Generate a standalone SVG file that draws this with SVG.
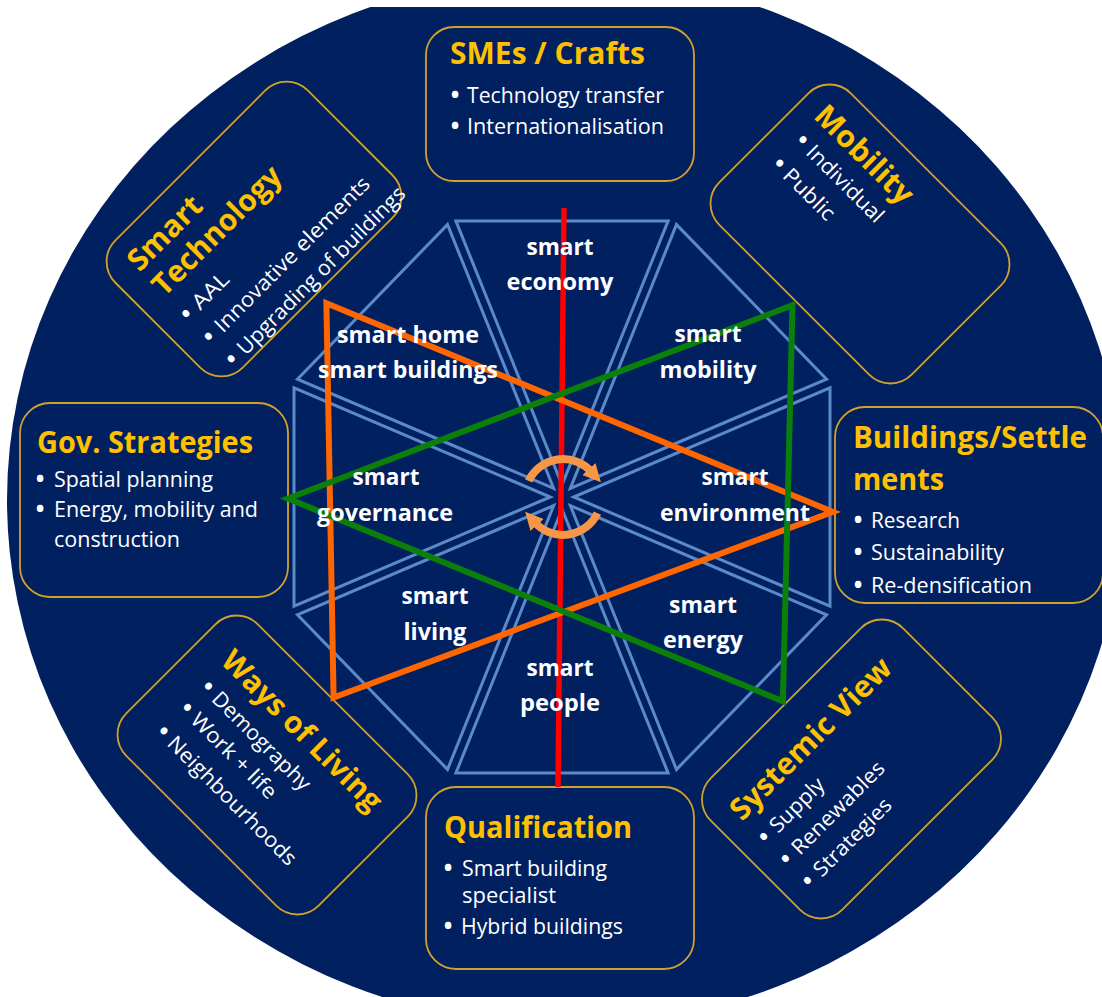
<svg xmlns="http://www.w3.org/2000/svg" width="1102" height="997" viewBox="0 0 1102 997">
<style>
.box{fill:#002060;stroke:#d1a12e;stroke-width:1.8}
.ttl{fill:#ffc000;font-family:"Open Sans","Liberation Sans",sans-serif;font-weight:bold;font-size:30px}
.bt{fill:#ffffff;font-family:"Open Sans","Liberation Sans",sans-serif;font-size:21px}
.bd{fill:#ffffff;font-family:"Open Sans","Liberation Sans",sans-serif;font-size:23px;font-weight:bold;text-anchor:middle}
.lab{fill:#ffffff;font-family:"Open Sans","Liberation Sans",sans-serif;font-weight:bold;font-size:24px;text-anchor:middle}
.wedge{fill:#002060;stroke:#5a8ac8;stroke-width:3;stroke-linejoin:miter}
.arc{fill:none;stroke:#f79646;stroke-width:8}
</style>
<defs>
<clipPath id="clip"><rect x="0" y="7" width="1102" height="990"/></clipPath>
<marker id="ah" viewBox="0 0 10 10" refX="2" refY="5" markerWidth="18" markerHeight="18" markerUnits="userSpaceOnUse" orient="auto"><path d="M0,0 L10,5 L0,10 z" fill="#f79646"/></marker>
<polygon id="wg" points="0,-11.8 -106.1,-268 106.1,-268"/>
</defs>
<rect width="1102" height="997" fill="#ffffff"/>
<ellipse cx="565" cy="500" rx="558" ry="526" fill="#002060" clip-path="url(#clip)"/>

<g id="sme">
<rect class="box" x="426" y="27" width="268" height="154" rx="28"/>
<text class="ttl" x="450" y="64" textLength="195" lengthAdjust="spacingAndGlyphs">SMEs / Crafts</text>
<text class="bd" x="455" y="103">•</text><text class="bt" x="467" y="103" textLength="197" lengthAdjust="spacingAndGlyphs">Technology transfer</text>
<text class="bd" x="455" y="134">•</text><text class="bt" x="467" y="134" textLength="197" lengthAdjust="spacingAndGlyphs">Internationalisation</text>
</g>

<g id="gov">
<rect class="box" x="20" y="403" width="268" height="194" rx="30"/>
<text class="ttl" x="37" y="453" textLength="216" lengthAdjust="spacingAndGlyphs">Gov. Strategies</text>
<text class="bd" x="40" y="487">•</text><text class="bt" x="54" y="487" textLength="159" lengthAdjust="spacingAndGlyphs">Spatial planning</text>
<text class="bd" x="40" y="517">•</text><text class="bt" x="54" y="517" textLength="204" lengthAdjust="spacingAndGlyphs">Energy, mobility and</text>
<text class="bt" x="54" y="547" textLength="126" lengthAdjust="spacingAndGlyphs">construction</text>
</g>

<g id="bld">
<rect class="box" x="835" y="407" width="268" height="196" rx="30"/>
<text class="ttl" x="853" y="448" textLength="234" lengthAdjust="spacingAndGlyphs">Buildings/Settle</text>
<text class="ttl" x="853" y="490" textLength="91" lengthAdjust="spacingAndGlyphs">ments</text>
<text class="bd" x="858" y="528">•</text><text class="bt" x="871" y="528" textLength="89" lengthAdjust="spacingAndGlyphs">Research</text>
<text class="bd" x="858" y="560">•</text><text class="bt" x="871" y="560" textLength="133" lengthAdjust="spacingAndGlyphs">Sustainability</text>
<text class="bd" x="858" y="593">•</text><text class="bt" x="871" y="593" textLength="161" lengthAdjust="spacingAndGlyphs">Re-densification</text>
</g>

<g id="qual">
<rect class="box" x="426" y="787" width="268" height="182" rx="30"/>
<text class="ttl" x="444" y="838" textLength="188" lengthAdjust="spacingAndGlyphs">Qualification</text>
<text class="bd" x="448" y="876">•</text><text class="bt" x="462" y="876" textLength="145" lengthAdjust="spacingAndGlyphs">Smart building</text>
<text class="bt" x="462" y="903" textLength="94" lengthAdjust="spacingAndGlyphs">specialist</text>
<text class="bd" x="448" y="934">•</text><text class="bt" x="461" y="934" textLength="162" lengthAdjust="spacingAndGlyphs">Hybrid buildings</text>
</g>

<g id="tech" transform="translate(254,229) rotate(-45)">
<rect class="box" x="-136" y="-90" width="272" height="180" rx="30"/>
<text class="ttl" x="-112" y="-50" textLength="92" lengthAdjust="spacingAndGlyphs">Smart</text>
<text class="ttl" x="-112" y="-15" textLength="169" lengthAdjust="spacingAndGlyphs">Technology</text>
<text class="bd" x="-108" y="20">•</text><text class="bt" x="-96" y="20" textLength="43" lengthAdjust="spacingAndGlyphs">AAL</text>
<text class="bd" x="-108" y="52">•</text><text class="bt" x="-96" y="52" textLength="210" lengthAdjust="spacingAndGlyphs">Innovative elements</text>
<text class="bd" x="-108" y="84">•</text><text class="bt" x="-96" y="84" textLength="228" lengthAdjust="spacingAndGlyphs">Upgrading of buildings</text>
</g>

<g id="mob" transform="translate(860,234) rotate(45)">
<rect class="box" x="-136" y="-93" width="272" height="186" rx="30"/>
<text class="ttl" x="-116" y="-49" textLength="126" lengthAdjust="spacingAndGlyphs">Mobility</text>
<text class="bd" x="-107" y="-18">•</text><text class="bt" x="-96" y="-18" textLength="100" lengthAdjust="spacingAndGlyphs">Individual</text>
<text class="bd" x="-107" y="15">•</text><text class="bt" x="-96" y="15" textLength="64" lengthAdjust="spacingAndGlyphs">Public</text>
</g>

<g id="ways" transform="translate(267,765) rotate(45)">
<rect class="box" x="-136" y="-93" width="272" height="186" rx="30"/>
<text class="ttl" x="-106" y="-39" textLength="213" lengthAdjust="spacingAndGlyphs">Ways of Living</text>
<text class="bd" x="-97" y="-6">•</text><text class="bt" x="-86" y="-6" textLength="130" lengthAdjust="spacingAndGlyphs">Demography</text>
<text class="bd" x="-97" y="24">•</text><text class="bt" x="-86" y="24" textLength="112" lengthAdjust="spacingAndGlyphs">Work + life</text>
<text class="bd" x="-97" y="57">•</text><text class="bt" x="-86" y="57" textLength="173" lengthAdjust="spacingAndGlyphs">Neighbourhoods</text>
</g>

<g id="sys" transform="translate(851.5,769) rotate(-45)">
<rect class="box" x="-136" y="-93" width="272" height="186" rx="30"/>
<text class="ttl" x="-115" y="-40" textLength="215" lengthAdjust="spacingAndGlyphs">Systemic View</text>
<text class="bd" x="-110" y="-6">•</text><text class="bt" x="-98" y="-6" textLength="68" lengthAdjust="spacingAndGlyphs">Supply</text>
<text class="bd" x="-110" y="25">•</text><text class="bt" x="-98" y="25" textLength="122" lengthAdjust="spacingAndGlyphs">Renewables</text>
<text class="bd" x="-110" y="56">•</text><text class="bt" x="-98" y="56" textLength="101" lengthAdjust="spacingAndGlyphs">Strategies</text>
</g>

<g id="octagon" transform="translate(562,497) scale(1,1.03)">
<use href="#wg" class="wedge"/>
<use href="#wg" class="wedge" transform="rotate(45)"/>
<use href="#wg" class="wedge" transform="rotate(90)"/>
<use href="#wg" class="wedge" transform="rotate(135)"/>
<use href="#wg" class="wedge" transform="rotate(180)"/>
<use href="#wg" class="wedge" transform="rotate(225)"/>
<use href="#wg" class="wedge" transform="rotate(270)"/>
<use href="#wg" class="wedge" transform="rotate(315)"/>
</g>

<g id="connectors">
<line x1="564" y1="208" x2="558" y2="787" stroke="#ff0000" stroke-width="5.5"/>
<polygon points="326.4,303.3 333.6,697.5 832.9,511.9" fill="none" stroke="#ff6600" stroke-width="6" stroke-linejoin="miter"/>
<polygon points="792.5,305.2 782.9,701.3 287.9,498.5" fill="none" stroke="#0a800a" stroke-width="6" stroke-linejoin="miter"/>
<path class="arc" d="M528.6,480.9 A38,38 0 0 1 591.2,471.6" marker-end="url(#ah)"/>
<path class="arc" d="M597.4,513.1 A38,38 0 0 1 534.8,522.4" marker-end="url(#ah)"/>
</g>

<g id="labels">
<text class="lab" x="560" y="255" textLength="67" lengthAdjust="spacingAndGlyphs">smart</text>
<text class="lab" x="560" y="290" textLength="107" lengthAdjust="spacingAndGlyphs">economy</text>
<text class="lab" x="408" y="343" textLength="142" lengthAdjust="spacingAndGlyphs">smart home</text>
<text class="lab" x="408" y="378" textLength="180" lengthAdjust="spacingAndGlyphs">smart buildings</text>
<text class="lab" x="708" y="342" textLength="67" lengthAdjust="spacingAndGlyphs">smart</text>
<text class="lab" x="708" y="378" textLength="97" lengthAdjust="spacingAndGlyphs">mobility</text>
<text class="lab" x="386" y="485" textLength="67" lengthAdjust="spacingAndGlyphs">smart</text>
<text class="lab" x="385" y="521" textLength="136" lengthAdjust="spacingAndGlyphs">governance</text>
<text class="lab" x="735" y="485" textLength="67" lengthAdjust="spacingAndGlyphs">smart</text>
<text class="lab" x="735" y="521" textLength="150" lengthAdjust="spacingAndGlyphs">environment</text>
<text class="lab" x="435" y="604" textLength="67" lengthAdjust="spacingAndGlyphs">smart</text>
<text class="lab" x="435" y="640" textLength="63" lengthAdjust="spacingAndGlyphs">living</text>
<text class="lab" x="703" y="613" textLength="68" lengthAdjust="spacingAndGlyphs">smart</text>
<text class="lab" x="703" y="648" textLength="80" lengthAdjust="spacingAndGlyphs">energy</text>
<text class="lab" x="560" y="676" textLength="67" lengthAdjust="spacingAndGlyphs">smart</text>
<text class="lab" x="560" y="711" textLength="80" lengthAdjust="spacingAndGlyphs">people</text>
</g>
</svg>
